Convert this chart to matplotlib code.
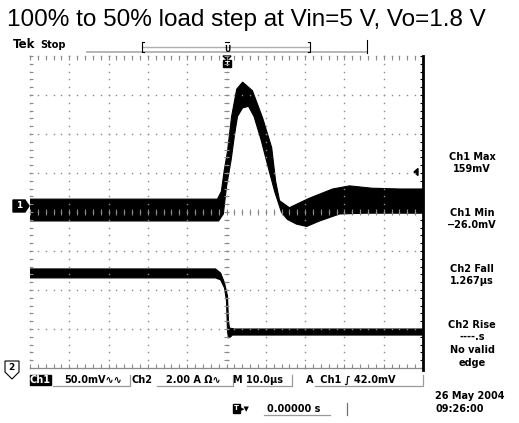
import numpy as np
import matplotlib.pyplot as plt
from matplotlib.patches import Polygon, Rectangle

W, H = 519, 423

# Ch1: output voltage deviation (mV), 50 mV/div -- top / bottom envelope of the noisy trace
ch1_top_t = [-50, -2.3, -1.3, -0.6, 0.25, 1.3, 2.6, 4.1, 6.6, 9.2, 11.5, 12.5, 13.5, 16.0, 21.0, 27.0, 31.3, 37.0, 44.0, 50.0]
ch1_top_mv = [9, 9, 19, 45, 70, 115, 150, 159, 148, 113, 75, 32, 7, -2, 10, 22, 26, 23, 22, 22]
ch1_bot_t = [-50, -2.0, -0.8, 0.0, 1.2, 2.0, 2.8, 4.1, 5.6, 7.0, 8.8, 10.6, 12.3, 14.0, 15.5, 17.8, 20.4, 23.7, 28.8, 35.6, 50.0]
ch1_bot_mv = [-19, -19, -10, 25, 60, 90, 115, 126, 128, 115, 85, 50, 18, -8, -17, -23, -26, -19, -10, -9, -9]

# Ch2: load current (A), 2 A/div
ch2_top_t = [-50, -2.8, -1.5, -0.5, 0.25, 0.5, 0.75, 2.0, 50]
ch2_top_a = [6.36, 6.36, 6.15, 5.64, 4.97, 3.69, 3.33, 3.28, 3.28]
ch2_bot_t = [-50, -2.8, -1.5, -0.5, 0.0, 0.25, 0.5, 1.0, 1.5, 50]
ch2_bot_a = [5.90, 5.90, 5.80, 5.38, 4.72, 3.18, 2.82, 2.87, 2.97, 2.97]

CH1_SCALE, CH1_POS = 50.0, 0.15    # mV/div, div
CH2_SCALE, CH2_POS = 2.0, -4.64    # A/div, div

readouts = [("Ch1 Max", "159mV"), ("Ch1 Min", "\u221226.0mV"),
            ("Ch2 Fall", "1.267\u00b5s"), ("Ch2 Rise", "----.s", "No valid", "edge")]

TEK = dict(family='DejaVu Sans', fontweight='bold', color='black')

fig = plt.figure(figsize=(W / 100, H / 100), dpi=100)
fig.patch.set_facecolor('white')

# pixel-space layer for the scope decorations
deco = fig.add_axes([0, 0, 1, 1])
deco.set_xlim(0, W)
deco.set_ylim(H, 0)
deco.axis('off')

# graticule area in pixels
L, R, T, B = 30, 423, 56, 368
ax = fig.add_axes([L / W, 1 - B / H, (R - L) / W, (B - T) / H])
ax.set_xlim(-50, 50)
ax.set_ylim(-4, 4)
ax.axis('off')

gc = '#8a8a8a'
mx = np.arange(-50, 50.01, 2)
my = np.arange(-4, 4.01, 0.2)
dot = dict(ls='none', marker='s', ms=1.0, mew=0, color=gc, clip_on=False)
for gx in range(-50, 41, 10):
    if gx != 0:
        ax.plot(np.full_like(my, gx), my, **dot)
for gy in range(-3, 5):
    if gy != 0:
        ax.plot(mx, np.full_like(mx, gy), **dot)

# centre cross with minor ticks
ax.plot(mx, np.zeros_like(mx), **dot)
ax.plot(np.zeros_like(my), my, **dot)
ax.vlines(mx, -0.07, 0.07, colors=gc, lw=0.8)
ax.hlines(my, -0.7, 0.7, colors=gc, lw=0.8)
# edge ticks
ax.vlines(mx, 3.9, 4.0, colors=gc, lw=0.8, clip_on=False)
ax.vlines(mx, -4.0, -3.9, colors=gc, lw=0.8, clip_on=False)
ax.hlines(my, -50, -49.2, colors=gc, lw=0.8, clip_on=False)
ax.hlines(my, 49.2, 50, colors='k', lw=0.8, clip_on=False)
ax.plot([-50, 50], [-4, -4], color=gc, lw=0.9, clip_on=False)
ax.plot([50, 50], [-4.05, 4.0], color='k', lw=2.0, clip_on=False)

# traces
t1 = ch1_top_t + ch1_bot_t[::-1]
v1 = np.array(ch1_top_mv + ch1_bot_mv[::-1]) / CH1_SCALE + CH1_POS
ax.fill(t1, v1, color='black', lw=0.8, ec='black')
t2 = ch2_top_t + ch2_bot_t[::-1]
v2 = np.array(ch2_top_a + ch2_bot_a[::-1]) / CH2_SCALE + CH2_POS
ax.fill(t2, v2, color='black', lw=0.8, ec='black')

# title
deco.text(7, 26, "100% to 50% load step at Vin=5 V, Vo=1.8 V", family='Liberation Sans',
          fontsize=17.5, va='baseline', ha='left')

# Tek header and record bar
deco.text(13, 45, "Tek", fontsize=8.5, va='center', ha='left', **TEK)
deco.text(40, 45, "Stop", fontsize=7, va='center', ha='left', **TEK)
deco.plot([87, 367], [52.5, 52.5], color='#b0b0b0', lw=1.3)
deco.plot([143, 310], [47, 47], color='#b0b0b0', lw=1.0)
deco.plot([144, 142, 142, 144], [42, 42, 52, 52], color='k', lw=0.8)
deco.plot([308, 310, 310, 308], [42, 42, 52, 52], color='k', lw=0.8)
deco.plot([367, 367], [40, 53], color='k', lw=0.8)
deco.text(227, 49, "U", fontsize=5.5, va='center', ha='center', **TEK)
deco.plot([225, 229], [42.5, 42.5], color='k', lw=0.8)
deco.add_patch(Polygon([[223, 56], [231, 56], [227, 60]], closed=True, color='k'))
deco.add_patch(Rectangle((223, 60), 8, 7, color='k'))
deco.text(227, 63.5, "T", fontsize=5, va='center', ha='center', color='white', fontweight='bold')

# channel markers
deco.add_patch(Polygon([[13, 200], [25, 200], [29, 206], [25, 212], [13, 212]], closed=True, color='k'))
deco.text(19, 206, "1", fontsize=6.5, va='center', ha='center', color='white', fontweight='bold')
deco.add_patch(Polygon([[5, 361], [19, 361], [19, 372], [12, 379], [5, 372]], closed=True,
                       fc='white', ec='k', lw=0.8))
deco.text(11.5, 367, "2", fontsize=6.5, va='center', ha='center', **TEK)

# trigger level arrow
deco.add_patch(Polygon([[414, 172], [418, 168.5], [418, 175.5]], closed=True, color='k'))

# measurement readouts
ys = [157, 213, 269, 325]
for y0, lines in zip(ys, readouts):
    for i, s in enumerate(lines):
        deco.text(472, y0 + i * 12.5, s, fontsize=7, va='center', ha='center', **TEK)

# status line
sy = 380
deco.add_patch(Rectangle((30, 375), 21, 10, color='k'))
deco.text(40.5, sy, "Ch1", fontsize=7, va='center', ha='center', family='DejaVu Sans',
          fontweight='bold', color='white')
deco.text(64, sy, "50.0mV\u223f\u223f", fontsize=7, va='center', ha='left', **TEK)
deco.text(131, sy, "Ch2", fontsize=7, va='center', ha='left', **TEK)
deco.text(166, sy, "2.00 A \u03a9\u223f", fontsize=7, va='center', ha='left', **TEK)
deco.text(233, sy, "M 10.0\u00b5s", fontsize=7, va='center', ha='left', **TEK)
deco.text(306, sy, "A  Ch1 \u222b 42.0mV", fontsize=7, va='center', ha='left', **TEK)
for x0, x1 in [(53, 130), (157, 233), (247, 292), (315, 423)]:
    deco.plot([x0, x1, x1], [386, 386, 375], color='#9a9a9a', lw=0.9)

deco.add_patch(Rectangle((233, 404), 7, 9, color='k'))
deco.text(236.5, 408.5, "T", fontsize=5, va='center', ha='center', color='white', fontweight='bold')
deco.text(241, 409, "\u25b8\u25bc", fontsize=5, va='center', ha='left', **TEK)
deco.text(267, 409, "0.00000 s", fontsize=7, va='center', ha='left', **TEK)
deco.plot([264, 330], [415, 415], color='#9a9a9a', lw=0.9)
deco.plot([347, 347], [403, 415], color='#707070', lw=0.9)

deco.text(435, 396, "26 May 2004", fontsize=7, va='center', ha='left', **TEK)
deco.text(435, 409, "09:26:00", fontsize=7, va='center', ha='left', **TEK)

fig.savefig("out.png", dpi=100, facecolor='white')
